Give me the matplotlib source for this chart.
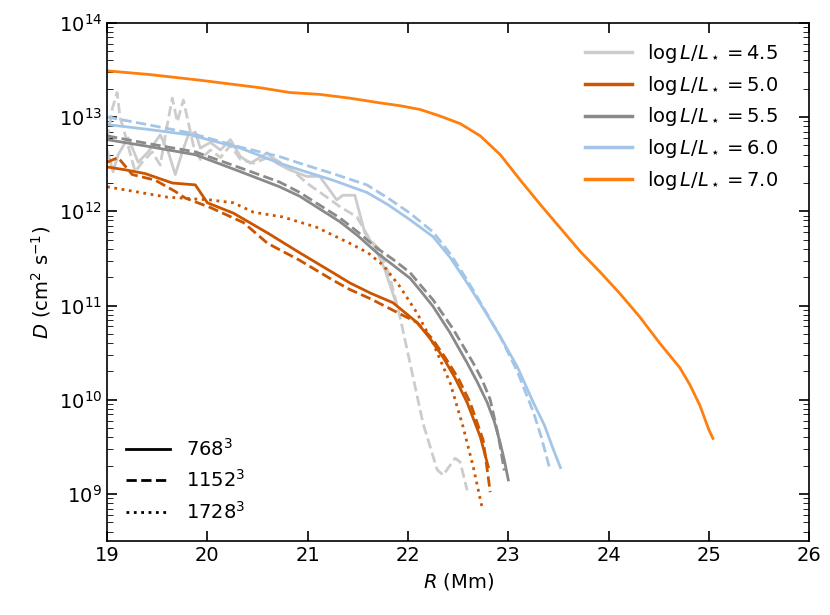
import numpy as np
import matplotlib.pyplot as plt
from matplotlib.lines import Line2D

# log L/L* = 4.5 (light grey)
r45_a = [19.00, 19.06, 19.11, 19.21, 19.31, 19.41, 19.53, 19.61, 19.68, 19.75, 19.81, 19.88, 19.93,
         20.03, 20.13, 20.23, 20.33, 20.43, 20.60, 20.69, 20.82, 20.99, 21.12, 21.29, 21.35, 21.47,
         21.57, 21.67, 21.77, 21.87]
d45_a = [12.65, 12.42, 12.60, 12.78, 12.52, 12.63, 12.81, 12.63, 12.39, 12.63, 12.81, 12.84, 12.67,
         12.73, 12.65, 12.76, 12.58, 12.51, 12.62, 12.51, 12.44, 12.37, 12.37, 12.12, 12.17, 12.17,
         11.77, 11.62, 11.38, 11.06]
r45_b = [19.00, 19.05, 19.10, 19.13, 19.16, 19.28, 19.35, 19.45, 19.53, 19.59, 19.65, 19.70, 19.76,
         19.80, 19.86, 19.93, 20.03, 20.13, 20.23, 20.33, 20.46, 20.63, 20.82, 20.99, 21.19, 21.32,
         21.49, 21.62, 21.72, 21.82, 21.92, 22.02, 22.15, 22.29, 22.35, 22.47, 22.52, 22.59]
d45_b = [12.76, 13.08, 13.26, 12.99, 12.89, 12.42, 12.52, 12.63, 12.49, 12.86, 13.20, 12.95, 13.18,
         12.99, 12.70, 12.55, 12.65, 12.57, 12.70, 12.55, 12.51, 12.58, 12.46, 12.30, 12.15, 12.05,
         11.94, 11.70, 11.59, 11.30, 10.88, 10.39, 9.75, 9.26, 9.20, 9.38, 9.34, 9.04]

# log L/L* = 5.0 (dark orange)
r50_a = [19.00, 19.18, 19.38, 19.65, 19.88, 20.00, 20.26, 20.60, 20.92, 21.25, 21.42, 21.63, 21.85,
         22.09, 22.22, 22.35, 22.47, 22.59, 22.72, 22.80]
d50_a = [12.47, 12.44, 12.40, 12.30, 12.28, 12.09, 11.98, 11.77, 11.56, 11.35, 11.24, 11.13, 11.03,
         10.82, 10.65, 10.45, 10.23, 9.97, 9.61, 9.29]
r50_b = [19.00, 19.11, 19.25, 19.48, 19.68, 19.78, 20.03, 20.36, 20.60, 20.92, 21.25, 21.42, 21.63,
         21.85, 22.09, 22.24, 22.37, 22.50, 22.62, 22.75, 22.82]
d50_b = [12.52, 12.57, 12.39, 12.33, 12.21, 12.14, 12.04, 11.88, 11.66, 11.48, 11.27, 11.17, 11.07,
         10.95, 10.82, 10.65, 10.45, 10.23, 9.97, 9.57, 9.02]
r50_c = [19.00, 19.60, 20.03, 20.26, 20.46, 20.75, 21.09, 21.42, 21.60, 21.75, 21.92, 22.09, 22.25,
         22.42, 22.55, 22.65, 22.74]
d50_c = [12.26, 12.15, 12.12, 12.09, 11.99, 11.94, 11.83, 11.66, 11.56, 11.43, 11.20, 10.92, 10.60,
         10.18, 9.71, 9.29, 8.85]

# log L/L* = 5.5 (grey)
r55_a = [19.00, 19.40, 19.88, 20.33, 20.72, 20.92, 21.32, 21.50, 21.69, 21.85, 22.02, 22.13, 22.25,
         22.42, 22.59, 22.69, 22.79, 22.86, 22.92, 22.96, 23.00]
d55_a = [12.76, 12.69, 12.60, 12.42, 12.26, 12.16, 11.89, 11.74, 11.56, 11.43, 11.29, 11.15, 10.99,
         10.71, 10.39, 10.19, 9.97, 9.77, 9.54, 9.36, 9.15]
r55_b = [19.00, 19.40, 19.88, 20.33, 20.72, 20.92, 21.32, 21.50, 21.69, 21.85, 22.02, 22.13, 22.25,
         22.45, 22.65, 22.74, 22.82, 22.90, 22.96]
d55_b = [12.80, 12.72, 12.63, 12.46, 12.31, 12.20, 11.93, 11.78, 11.61, 11.49, 11.35, 11.21, 11.06,
         10.75, 10.39, 10.21, 10.00, 9.62, 9.25]

# log L/L* = 6.0 (light blue)
r60_a = [19.00, 19.40, 19.83, 20.33, 20.72, 20.92, 21.25, 21.59, 21.80, 22.02, 22.25, 22.42, 22.59,
         22.75, 22.92, 23.09, 23.25, 23.36, 23.45, 23.52]
d60_a = [12.92, 12.87, 12.81, 12.67, 12.51, 12.44, 12.33, 12.20, 12.07, 11.91, 11.73, 11.51, 11.24,
         10.97, 10.67, 10.35, 9.97, 9.73, 9.47, 9.28]
r60_b = [19.00, 19.40, 19.83, 20.33, 20.72, 20.92, 21.25, 21.59, 21.80, 22.02, 22.25, 22.42, 22.59,
         22.75, 22.92, 23.09, 23.25, 23.33, 23.41]
d60_b = [13.00, 12.92, 12.83, 12.68, 12.58, 12.51, 12.40, 12.28, 12.14, 11.98, 11.78, 11.55, 11.27,
         10.98, 10.67, 10.30, 9.87, 9.60, 9.28]

# log L/L* = 7.0 (orange)
r70_a = [19.00, 19.43, 19.93, 20.23, 20.53, 20.82, 21.12, 21.42, 21.72, 21.92, 22.12, 22.32, 22.52,
         22.72, 22.92, 23.12, 23.32, 23.52, 23.72, 23.92, 24.11, 24.31, 24.51, 24.71, 24.81, 24.91,
         25.00, 25.04]
d70_a = [13.49, 13.45, 13.39, 13.35, 13.31, 13.26, 13.24, 13.20, 13.15, 13.12, 13.08, 13.01, 12.93,
         12.80, 12.60, 12.33, 12.07, 11.82, 11.57, 11.35, 11.13, 10.88, 10.60, 10.34, 10.16, 9.94,
         9.68, 9.59]

lum_labels = ['4.5', '5.0', '5.5', '6.0', '7.0']
colors = ['#cccccc', '#cc5500', '#8a8a8a', '#a3c6e8', '#ff7f0e']
res_labels = ['$768^3$', '$1152^3$', '$1728^3$']
styles = ['-', '--', ':']

runs = [
    (r45_a, d45_a, 0, 0), (r45_b, d45_b, 0, 1),
    (r50_a, d50_a, 1, 0), (r50_b, d50_b, 1, 1), (r50_c, d50_c, 1, 2),
    (r55_a, d55_a, 2, 0), (r55_b, d55_b, 2, 1),
    (r60_a, d60_a, 3, 0), (r60_b, d60_b, 3, 1),
    (r70_a, d70_a, 4, 0),
]

plt.rcParams['font.size'] = 14
fig = plt.figure(figsize=(8.3, 6.15), dpi=100)
ax = fig.add_axes([0.129, 0.120, 0.846, 0.843])

for r, d, ci, si in runs:
    ax.plot(r, 10 ** np.array(d), linestyle=styles[si], color=colors[ci], lw=2)

ax.set_yscale('log')
ax.set_xlim(19, 26)
ax.set_ylim(10 ** 8.5, 1e14)
ax.set_xlabel('$R$ (Mm)')
ax.set_ylabel('$D$ (cm$^2$ s$^{-1}$)')
ax.tick_params(which='both', direction='in', top=True, right=True)
ax.tick_params(which='major', length=7, width=1.2)
ax.tick_params(which='minor', length=4)
for s in ax.spines.values():
    s.set_linewidth(1.2)

h1 = [Line2D([], [], color=c, lw=2.5) for c in colors]
l1 = [r'$\log L/L_\star = %s$' % v for v in lum_labels]
leg1 = ax.legend(h1, l1, loc='upper right', bbox_to_anchor=(0.981, 0.997), frameon=False,
                 handlelength=2.4, labelspacing=0.45)
ax.add_artist(leg1)

h2 = [Line2D([], [], color='black', linestyle=s, lw=2) for s in styles]
ax.legend(h2, res_labels, loc='lower left', frameon=False, handlelength=2.3,
          labelspacing=0.5, borderaxespad=0.55)

fig.savefig('out.png', dpi=100)
